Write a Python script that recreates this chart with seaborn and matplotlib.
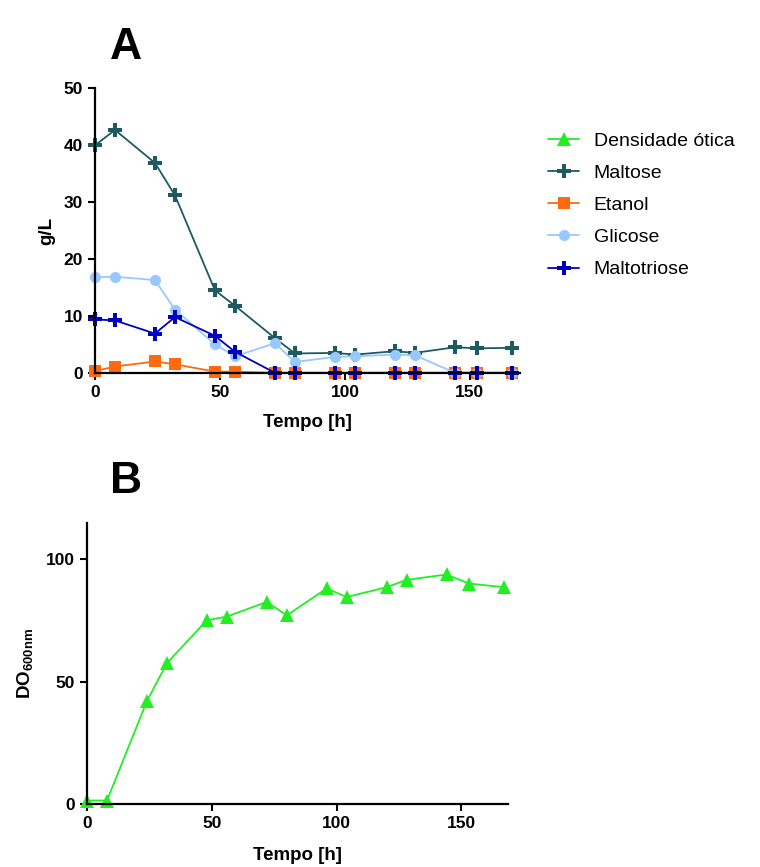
import numpy as np
import pandas as pd
import matplotlib
matplotlib.use('Agg')
import matplotlib.pyplot as plt
import seaborn as sns

# Dados
tempo = [0, 8, 24, 32, 48, 56, 72, 80, 96, 104, 120, 128, 144, 153, 167]
maltose = [40, 42.7, 36.9, 31.2, 14.5, 11.8, 6.1, 3.4, 3.5, 3.2, 3.8, 3.5, 4.5, 4.3, 4.4]
etanol = [0.3, 1.1, 2.0, 1.5, 0.2, 0.2, 0, 0, 0, 0, 0, 0, 0, 0, 0]
glicose = [16.8, 16.9, 16.3, 11.1, 5.0, 2.9, 5.2, 1.9, 2.8, 2.9, 3.2, 3.1, 0, 0, 0]
maltotriose = [9.4, 9.2, 6.9, 9.8, 6.5, 3.7, 0, 0, 0, 0, 0, 0, 0, 0, 0]
densidade = [1.4, 1.4, 42, 57.5, 75, 76.5, 82.5, 77, 88, 84.5, 88.5, 91.5, 93.7, 90, 88.5]

sns.set_theme(style='ticks')
plt.rcParams['font.family'] = ['Liberation Sans', 'DejaVu Sans']
plt.rcParams['text.color'] = 'black'
plt.rcParams['axes.labelcolor'] = 'black'

fig = plt.figure(figsize=(7.6, 8.67), dpi=100)
axA = fig.add_axes([0.125, 0.570, 0.559, 0.328])
axB = fig.add_axes([0.1145, 0.0727, 0.5535, 0.324])

series = [
    ('Maltose', maltose, '#1d5a62', 'P', 10),
    ('Etanol', etanol, '#ff6a10', 's', 8.5),
    ('Glicose', glicose, '#99c8ff', 'o', 8),
    ('Maltotriose', maltotriose, '#0000c0', 'P', 10),
]
for nome, vals, cor, mk, ms in series:
    sns.lineplot(x=tempo, y=vals, ax=axA, color=cor, marker=mk, markersize=ms,
                 markeredgewidth=0, linewidth=1.3, label=nome, clip_on=False)

sns.lineplot(x=tempo, y=densidade, ax=axB, color='#22ee22', marker='^',
             markersize=10, markeredgewidth=0, linewidth=1.3,
             label='Densidade ótica', clip_on=False)

axA.set_xlim(0, 170)
axA.set_ylim(0, 50)
axA.set_yticks([0, 10, 20, 30, 40, 50])
axA.set_xticks([0, 50, 100, 150])
axB.set_xlim(0, 168.5)
axB.set_ylim(0, 114.7)
axB.set_yticks([0, 50, 100])
axB.set_xticks([0, 50, 100, 150])

for ax in (axA, axB):
    sns.despine(ax=ax)
    for s in ('left', 'bottom'):
        ax.spines[s].set_linewidth(1.6)
        ax.spines[s].set_color('black')
    ax.tick_params(width=1.5, length=5, labelsize=12.5, colors='black')
    for lab in ax.get_xticklabels() + ax.get_yticklabels():
        lab.set_fontweight('bold')
    ax.get_legend().remove()

axA.set_xlabel('Tempo [h]', fontsize=13.5, fontweight='bold', labelpad=10)
axB.set_xlabel('Tempo [h]', fontsize=13.5, fontweight='bold', labelpad=12)
axA.set_ylabel('g/L', fontsize=13.5, fontweight='bold', labelpad=6)
axB.set_ylabel('DO$_{\\mathregular{600nm}}$', fontsize=13.5, fontweight='bold', labelpad=7)

fig.text(0.145, 0.945, 'A', fontsize=32, fontweight='bold', ha='left', va='center')
fig.text(0.145, 0.445, 'B', fontsize=32, fontweight='bold', ha='left', va='center')

hB, lB = axB.get_legend_handles_labels()
hA, lA = axA.get_legend_handles_labels()
fig.legend(hB + hA, lB + lA, loc='upper left', bbox_to_anchor=(0.698, 0.868),
           frameon=False, fontsize=14, handlelength=1.6, labelspacing=0.75,
           handletextpad=0.75)

fig.savefig('out.png', dpi=100)
